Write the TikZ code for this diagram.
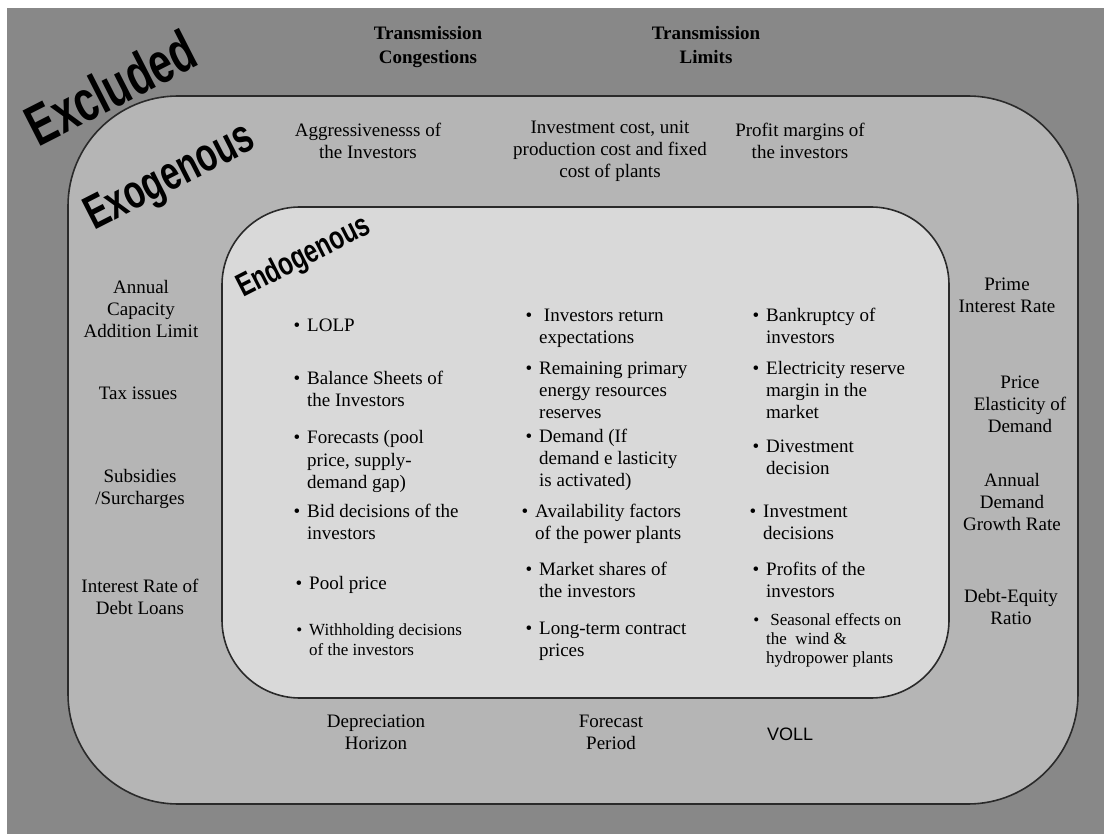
\documentclass[tikz,border=0pt]{standalone}
\usepackage{fontspec}
\setmainfont{Liberation Serif}
\newfontfamily\headfont{Liberation Sans}
\definecolor{bgzone}{HTML}{888888}
\definecolor{exozone}{HTML}{B5B5B5}
\definecolor{endozone}{HTML}{D9D9D9}
\definecolor{edge}{HTML}{2A2A2A}
\newcommand\itembullet{\llap{\textbullet\hspace{7pt}}}
\begin{document}
\begin{tikzpicture}[x=1pt,y=-1pt,
  % multi-line nodes are placed by the baseline of their last line
  txt/.style={font=\fontsize{19}{22}\selectfont, inner sep=0, align=center, anchor=base},
  boldtxt/.style={font=\fontsize{19}{24}\selectfont\bfseries, inner sep=0, align=center, anchor=base},
  item/.style={font=\fontsize{19}{22}\selectfont, inner sep=0, align=left, anchor=base west},
  smallitem/.style={item, font=\fontsize{17}{20}\selectfont},
  zone/.style={inner sep=0, anchor=base, transform shape},
  frame/.style={draw=edge, line width=1.6pt}
]
\useasboundingbox (0,0) rectangle (1104,834);
\fill[white] (0,0) rectangle (1104,834);
\fill[bgzone] (7,8) rectangle (1104,834);

% nested zones
\draw[frame, fill=exozone, rounded corners=110pt] (68,96) rectangle (1078,804);
\draw[frame, fill=endozone, rounded corners=78pt] (222,207) rectangle (949,698);

% zone titles
\node[zone, font=\headfont\bfseries\fontsize{41}{41}\selectfont, rotate=27, yscale=1.4] (excl) at (120,106) {Excluded};
\node[zone, font=\headfont\bfseries\fontsize{34}{34}\selectfont, rotate=27, yscale=1.4] (exo) at (176,189) {Exogenous};
\node[zone, font=\headfont\bfseries\fontsize{24}{24}\selectfont, rotate=27, yscale=1.35] (endo) at (308,265) {Endogenous};

% excluded factors
\node[boldtxt] (tcong) at (428,64) {Transmission\\Congestions};
\node[boldtxt] (tlim) at (706,64) {Transmission\\Limits};

% exogenous factors
\node[txt] (aggr) at (368,159) {Aggressivenesss of\\the Investors};
\node[txt] (cost) at (610,178) {Investment cost, unit\\production cost and fixed\\cost of plants};
\node[txt] (margin) at (800,159) {Profit margins of\\the investors};
\node[txt] (caplim) at (141,338) {Annual\\Capacity\\Addition Limit};
\node[txt] (tax) at (138,400) {Tax issues};
\node[txt] (subs) at (140,504) {Subsidies\\/Surcharges};
\node[txt] (debtrate) at (140,614) {Interest Rate of\\Debt Loans};
\node[txt] (prime) at (1007,313) {Prime\\Interest Rate};
\node[txt] (elast) at (1020,433) {Price\\Elasticity of\\Demand};
\node[txt] (growth) at (1012,530) {Annual\\Demand\\Growth Rate};
\node[txt] (deq) at (1011,624) {Debt-Equity\\Ratio};
\node[txt] (depr) at (376,749) {Depreciation\\Horizon};
\node[txt] (fper) at (611,749) {Forecast\\Period};
\node[item, font=\headfont\fontsize{18}{22}\selectfont] (voll) at (767,740) {VOLL};

% endogenous variables, first column
\node[item] (lolp) at (307,332) {\itembullet LOLP};
\node[item] (bal) at (307,407) {\itembullet Balance Sheets of\\the Investors};
\node[item] (fcst) at (307,488) {\itembullet Forecasts (pool\\price, supply-\\demand gap)};
\node[item] (bid) at (307,539) {\itembullet Bid decisions of the\\investors};
\node[item] (pool) at (309,589) {\itembullet Pool price};
\node[smallitem] (withh) at (309,655) {\itembullet Withholding decisions\\of the investors};

% second column
\node[item] (ret) at (539,344) {\itembullet\ Investors return\\expectations};
\node[item] (prim) at (539,419) {\itembullet Remaining primary\\energy resources\\reserves};
\node[item] (dem) at (539,486) {\itembullet Demand (If\\demand e lasticity\\is activated)};
\node[item] (avail) at (535,539) {\itembullet Availability factors\\of the power plants};
\node[item] (share) at (539,597) {\itembullet Market shares of\\the investors};
\node[item] (ltc) at (539,656) {\itembullet Long-term contract\\prices};

% third column
\node[item] (bankr) at (766,344) {\itembullet Bankruptcy of\\investors};
\node[item] (resm) at (766,419) {\itembullet Electricity reserve\\margin in the\\market};
\node[item] (divest) at (766,475) {\itembullet Divestment\\decision};
\node[item] (invest) at (763,539) {\itembullet Investment\\decisions};
\node[item] (prof) at (766,597) {\itembullet Profits of the\\investors};
\node[smallitem, font=\fontsize{17}{19}\selectfont] (seas) at (766,663) {\itembullet\ Seasonal effects on\\the\ \ wind \&\\hydropower plants};
\end{tikzpicture}
\end{document}
